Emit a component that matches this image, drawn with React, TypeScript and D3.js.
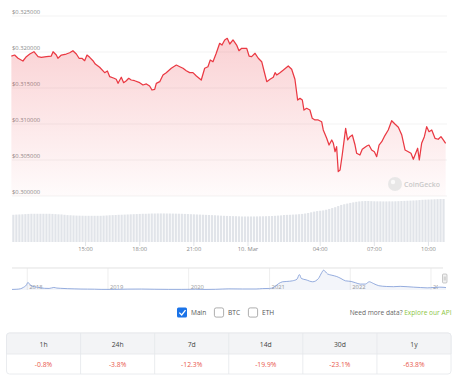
import React from "react";
import * as d3 from "d3";

// ---------- DATA ----------
// hours since 9 Mar 2023 00:00
const priceHours = [
  10.89, 11.07, 11.26, 11.53, 11.72, 11.91, 12.14, 12.37, 12.55, 12.83,
  13.10, 13.20, 13.38, 13.47, 13.66, 13.93, 14.12, 14.30, 14.49, 14.64,
  14.80, 14.95, 15.08, 15.23, 15.41, 15.54, 15.78, 16.06, 16.21, 16.34,
  16.58, 16.70, 16.80, 16.98, 17.11, 17.26, 17.39, 17.53, 17.72, 18.00,
  18.18, 18.37, 18.55, 18.68, 18.83, 18.92, 19.11, 19.29, 19.47, 19.75,
  20.03, 20.22, 20.40, 20.58, 20.77, 20.95, 21.14, 21.41, 21.60, 21.78,
  21.91, 22.06, 22.24, 22.43, 22.56, 22.71, 22.85, 22.99, 23.17, 23.37,
  23.50, 23.65, 23.93, 24.06, 24.20, 24.39, 24.57, 24.76, 24.90, 25.04,
  25.22, 25.40, 25.50, 25.59, 25.77, 25.96, 26.23, 26.42, 26.60, 26.75,
  26.88, 27.01, 27.10, 27.25, 27.43, 27.56, 27.71, 27.89, 28.08, 28.17,
  28.36, 28.49, 28.64, 28.73, 28.82, 28.91, 29.00, 29.10, 29.22, 29.41,
  29.52, 29.65, 29.78, 29.93, 30.02, 30.20, 30.33, 30.58, 30.70, 30.85,
  31.00, 31.13, 31.26, 31.41, 31.55, 31.77, 31.96, 32.14, 32.33, 32.52,
  32.70, 32.88, 33.03, 33.16, 33.29, 33.40, 33.49, 33.62, 33.77, 33.90,
  34.03, 34.18, 34.36, 34.54, 34.69, 34.82, 34.95,
];
const priceValues = [
  0.31944, 0.31958, 0.31913, 0.31875, 0.31935, 0.31972, 0.32004, 0.31935, 0.31926, 0.31935,
  0.31944, 0.32004, 0.31958, 0.31913, 0.31958, 0.31972, 0.31990, 0.32018, 0.31972, 0.31913,
  0.31913, 0.31879, 0.31958, 0.31926, 0.31879, 0.31833, 0.31788, 0.31713, 0.31736, 0.31657,
  0.31635, 0.31621, 0.31565, 0.31649, 0.31574, 0.31601, 0.31635, 0.31611, 0.31601, 0.31574,
  0.31542, 0.31556, 0.31528, 0.31472, 0.31482, 0.31565, 0.31588, 0.31681, 0.31713, 0.31774,
  0.31819, 0.31796, 0.31774, 0.31740, 0.31713, 0.31713, 0.31667, 0.31611, 0.31774, 0.31796,
  0.31889, 0.31865, 0.31982, 0.32121, 0.32097, 0.32167, 0.32190, 0.32111, 0.32167, 0.32097,
  0.32018, 0.32051, 0.32051, 0.31944, 0.31935, 0.31982, 0.31913, 0.31865, 0.31726, 0.31588,
  0.31621, 0.31649, 0.31713, 0.31681, 0.31713, 0.31750, 0.31806, 0.31760, 0.31621, 0.31333,
  0.31357, 0.31333, 0.31194, 0.31218, 0.31194, 0.31079, 0.31056, 0.31056, 0.31032, 0.30917,
  0.30801, 0.30708, 0.30778, 0.30732, 0.30615, 0.30685, 0.30338, 0.30361, 0.30569, 0.30940,
  0.30778, 0.30824, 0.30847, 0.30708, 0.30593, 0.30569, 0.30649, 0.30694, 0.30708, 0.30639,
  0.30615, 0.30546, 0.30708, 0.30754, 0.30824, 0.30917, 0.31046, 0.31000, 0.30954, 0.30847,
  0.30639, 0.30615, 0.30593, 0.30510, 0.30593, 0.30663, 0.30500, 0.30732, 0.30824, 0.30963,
  0.30893, 0.30917, 0.30801, 0.30788, 0.30824, 0.30778, 0.30732,
];

// 24h volume (million USD), one bar every 10 minutes from 9 Mar 11:00
const volumeStartHour = 11;
const volumeValues = [
  405, 408, 410, 412, 415, 418, 420, 420, 420, 420,
  420, 420, 420, 418, 415, 412, 410, 405, 400, 398,
  395, 393, 392, 391, 390, 390, 390, 390, 390, 390,
  392, 395, 398, 400, 402, 405, 406, 408, 410, 412,
  414, 416, 418, 420, 420, 422, 424, 424, 425, 425,
  425, 424, 424, 423, 422, 421, 420, 418, 416, 414,
  412, 410, 408, 406, 404, 402, 400, 398, 395, 392,
  390, 388, 386, 385, 384, 382, 380, 380, 380, 380,
  380, 381, 382, 383, 384, 385, 387, 390, 393, 396,
  402, 404, 405, 408, 410, 414, 418, 424, 432, 442,
  452, 460, 465, 470, 480, 492, 505, 518, 535, 552,
  562, 572, 582, 590, 598, 604, 608, 610, 610, 608,
  606, 605, 605, 604, 604, 605, 605, 606, 608, 610,
  612, 614, 616, 618, 620, 624, 628, 630, 632, 634,
  636, 638, 640, 640,
];

const yTicks = [0.3, 0.305, 0.31, 0.315, 0.32, 0.325];
const xTickHours = [15, 18, 21, 24, 28, 31, 34];
const xTickLabels = ["15:00", "18:00", "21:00", "10. Mar", "04:00", "07:00", "10:00"];

// navigator (all-time price, USD)
const navDates = [
  "2017-10-24", "2017-11-15", "2017-12-01", "2017-12-15", "2017-12-28", "2018-01-04", "2018-01-15", "2018-02-01", "2018-02-15", "2018-03-01",
  "2018-03-20", "2018-04-10", "2018-05-01", "2018-05-15", "2018-06-01", "2018-07-01", "2018-08-01", "2018-09-01", "2018-10-01", "2018-11-01",
  "2018-12-01", "2019-02-01", "2019-04-01", "2019-06-01", "2019-08-01", "2019-10-01", "2019-12-01", "2020-02-01", "2020-03-15", "2020-05-01",
  "2020-07-01", "2020-09-01", "2020-11-01", "2020-12-01", "2021-01-01", "2021-01-20", "2021-02-10", "2021-03-01", "2021-03-20", "2021-04-15",
  "2021-05-05", "2021-05-16", "2021-05-25", "2021-06-15", "2021-07-15", "2021-08-10", "2021-08-25", "2021-09-02", "2021-09-20", "2021-10-10",
  "2021-11-01", "2021-11-20", "2021-12-10", "2022-01-05", "2022-01-25", "2022-02-15", "2022-03-10", "2022-03-28", "2022-04-15", "2022-05-10",
  "2022-06-15", "2022-07-15", "2022-08-15", "2022-09-15", "2022-10-15", "2022-11-15", "2022-12-15", "2023-01-15", "2023-02-10", "2023-03-01",
  "2023-03-10",
];
const navValues = [
  0.03, 0.06, 0.13, 0.35, 0.7, 1.1, 0.7, 0.45, 0.38, 0.3,
  0.2, 0.18, 0.33, 0.24, 0.2, 0.15, 0.12, 0.09, 0.08, 0.07,
  0.04, 0.04, 0.08, 0.09, 0.06, 0.04, 0.04, 0.06, 0.03, 0.05,
  0.12, 0.1, 0.1, 0.16, 0.18, 0.35, 0.9, 1.2, 1.25, 1.35,
  1.6, 2.3, 1.7, 1.5, 1.2, 1.7, 2.6, 2.97, 2.4, 2.2,
  2.0, 1.7, 1.35, 1.25, 1.05, 0.85, 0.85, 1.2, 0.95, 0.6,
  0.48, 0.45, 0.5, 0.45, 0.38, 0.32, 0.27, 0.33, 0.38, 0.35,
  0.31,
];
const navYears = ["2018", "2019", "2020", "2021", "2022", "2023"];

const legendItems = ["Main", "BTC", "ETH"];
const periodLabels = ["1h", "24h", "7d", "14d", "30d", "1y"];
const periodChanges = ["-0.8%", "-3.8%", "-12.3%", "-19.9%", "-23.1%", "-63.8%"];

// ---------- HELPERS ----------
const base = new Date(2023, 2, 9, 0, 0, 0).getTime();
const atHour = (h: number) => new Date(base + h * 3600e3);
const parseDay = (s: string) => {
  const [y, m, d] = s.split("-").map(Number);
  return new Date(y, m - 1, d);
};

const FONT = "'Open Sans', 'DejaVu Sans', sans-serif";

export default function App() {
  const W = 460, H = 384;
  const x = d3.scaleTime().domain([atHour(10.925), atHour(35.025)]).range([12, 447]);
  const y = d3.scaleLinear().domain([0.3, 0.325]).range([196, 16]);
  const yVol = d3.scaleLinear().domain([0, 640]).range([242, 199]);

  const pts = priceHours.map((h, i) => ({ t: atHour(h), v: priceValues[i] }));
  const line = d3.line<any>().x((d) => x(d.t)).y((d) => y(d.v));
  const area = d3.area<any>().x((d) => x(d.t)).y0(y(0.3)).y1((d) => y(d.v));

  const volStep = x(atHour(volumeStartHour + 1 / 6)) - x(atHour(volumeStartHour));
  const barW = volStep * 0.72;

  // navigator
  const xNav = d3.scaleTime().domain([parseDay("2017-10-24"), parseDay("2023-03-10")]).range([12, 446]);
  const yNav = d3.scaleLinear().domain([0.02, 3.0]).range([289.5, 270]);
  const navPts = navDates.map((s, i) => ({ t: parseDay(s), v: navValues[i] }));
  const navLine = d3.line<any>().x((d) => xNav(d.t)).y((d) => yNav(d.v)).curve(d3.curveMonotoneX);
  const navArea = d3.area<any>().x((d) => xNav(d.t)).y0(290).y1((d) => yNav(d.v)).curve(d3.curveMonotoneX);

  const fmt = d3.format("$.6f");

  // table
  const tX0 = 6.5, tX1 = 451, tY0 = 333, tYm = 354, tY1 = 374;
  const colW = (tX1 - tX0) / periodLabels.length;

  const legendX = [177, 214, 248];

  return (
    <svg width={W} height={H} style={{ position: "absolute", left: 0, top: 0, background: "#fff" }} fontFamily={FONT}>
      <defs>
        <linearGradient id="priceFill" x1="0" y1="16" x2="0" y2="196" gradientUnits="userSpaceOnUse">
          <stop offset="0" stopColor="#ea3943" stopOpacity={0.26} />
          <stop offset="1" stopColor="#ea3943" stopOpacity={0.02} />
        </linearGradient>
        <clipPath id="navClip">
          <rect x={12} y={262} width={426} height={30} />
        </clipPath>
      </defs>

      {/* grid + y labels */}
      {yTicks.map((t) => (
        <g key={t}>
          <line x1={12} x2={447} y1={y(t)} y2={y(t)} stroke="#f0f0f0" strokeWidth={0.8} />
          <text x={12} y={y(t) - 2.5} fontSize={5.8} fill="#8a8a8a">{fmt(t)}</text>
        </g>
      ))}

      {/* price area & line */}
      <path d={area(pts) || ""} fill="url(#priceFill)" />
      <path d={line(pts) || ""} fill="none" stroke="#ea3943" strokeWidth={1.25} strokeLinejoin="round" />

      {/* watermark */}
      <g opacity={0.9}>
        <circle cx={395} cy={184} r={7} fill="#e6e6e6" />
        <circle cx={393} cy={182} r={2.2} fill="#fafafa" />
        <text x={404} y={186.5} fontSize={7} fill="#c4c4c4" fontWeight={600}>CoinGecko</text>
      </g>

      {/* volume bars */}
      {volumeValues.map((v, i) => {
        const cx = x(atHour(volumeStartHour + i / 6));
        return (
          <rect key={i} x={cx - barW / 2} y={yVol(v)} width={barW} height={yVol(0) - yVol(v)} fill="#e1e4e9" />
        );
      })}

      {/* x axis */}
      {xTickHours.map((h, i) => (
        <g key={h}>
          <line x1={x(atHour(h))} x2={x(atHour(h))} y1={242} y2={246} stroke="#cfd3da" strokeWidth={0.6} />
          <text x={x(atHour(h))} y={251} fontSize={5.8} fill="#8a8a8a" textAnchor="middle">{xTickLabels[i]}</text>
        </g>
      ))}

      {/* navigator */}
      <line x1={12} x2={443} y1={268} y2={268} stroke="#d6d6d6" strokeWidth={0.7} />
      {navYears.map((yr) => {
        const xx = xNav(parseDay(`${yr}-01-01`));
        return (
          <g key={yr} clipPath="url(#navClip)">
            <line x1={xx} x2={xx} y1={268} y2={290} stroke="#e6e6e6" strokeWidth={0.7} />
            <text x={xx + 2} y={288.5} fontSize={5.8} fill="#999">{yr}</text>
          </g>
        );
      })}
      <path d={navArea(navPts) || ""} fill="#335cad" fillOpacity={0.06} />
      <path d={navLine(navPts) || ""} fill="none" stroke="#7b98d6" strokeWidth={0.8} />
      <rect x={442.5} y={274} width={4.5} height={9} rx={1} fill="#f2f2f2" stroke="#9a9a9a" strokeWidth={0.5} />
      <line x1={444.2} x2={444.2} y1={276.5} y2={280.5} stroke="#9a9a9a" strokeWidth={0.4} />
      <line x1={445.3} x2={445.3} y1={276.5} y2={280.5} stroke="#9a9a9a" strokeWidth={0.4} />

      {/* legend */}
      {legendItems.map((name, i) => (
        <g key={name}>
          {i === 0 ? (
            <>
              <rect x={legendX[i]} y={307.5} width={10} height={10} rx={1.5} fill="#1a73e8" />
              <path d={`M${legendX[i] + 2.3},${312.6} l2.4,2.4 l3.8,-4.8`} fill="none" stroke="#fff" strokeWidth={1.3} />
            </>
          ) : (
            <rect x={legendX[i] + 0.4} y={307.9} width={9.2} height={9.2} rx={1.8} fill="#fff" stroke="#8c8c8c" strokeWidth={0.7} />
          )}
          <text x={legendX[i] + 14} y={315} fontSize={6.6} fill="#555">{name}</text>
        </g>
      ))}
      <text x={451.5} y={315} fontSize={6.6} textAnchor="end">
        <tspan fill="#666">Need more data? </tspan>
        <tspan fill="#8dc63f">Explore our API</tspan>
      </text>

      {/* table */}
      <rect x={tX0} y={tY0} width={tX1 - tX0} height={tY1 - tY0} rx={3} fill="#fff" stroke="#e5e7eb" strokeWidth={0.8} />
      <path d={`M${tX0},${tYm} V${tY0 + 3} Q${tX0},${tY0} ${tX0 + 3},${tY0} H${tX1 - 3} Q${tX1},${tY0} ${tX1},${tY0 + 3} V${tYm} Z`} fill="#f3f4f6" stroke="#e5e7eb" strokeWidth={0.8} />
      {periodLabels.map((lab, i) => (
        <g key={lab}>
          {i > 0 && <line x1={tX0 + i * colW} x2={tX0 + i * colW} y1={tY0} y2={tY1} stroke="#e5e7eb" strokeWidth={0.8} />}
          <text x={tX0 + (i + 0.5) * colW} y={346.5} fontSize={6.8} fill="#444" textAnchor="middle">{lab}</text>
          <text x={tX0 + (i + 0.5) * colW} y={366.5} fontSize={6.8} fill="#e9574c" textAnchor="middle">{periodChanges[i]}</text>
        </g>
      ))}
    </svg>
  );
}
